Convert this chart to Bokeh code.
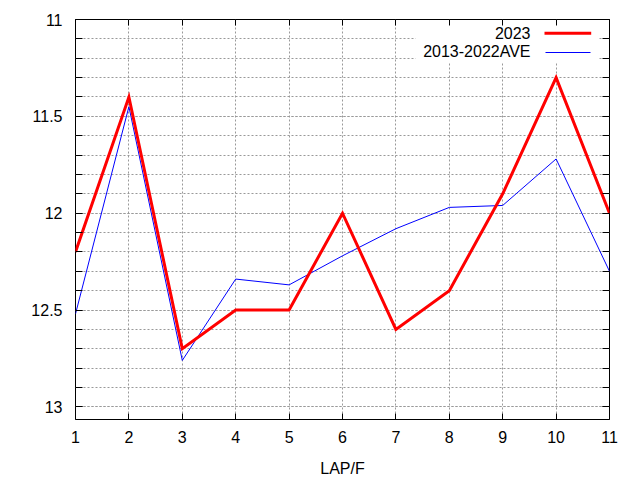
from bokeh.plotting import figure
from bokeh.models import (Range1d, LinearAxis, SingleIntervalTicker, BoxAnnotation, Label)
from bokeh.embed import file_html
from bokeh.resources import INLINE

laps = [1, 2, 3, 4, 5, 6, 7, 8, 9, 10, 11]
y2023 = [12.2, 11.4, 12.7, 12.5, 12.5, 12.0, 12.6, 12.4, 11.9, 11.3, 12.0]
avg_2013_2022 = [12.52, 11.45, 12.76, 12.34, 12.37, 12.22, 12.08, 11.97, 11.96, 11.72, 12.30]
series_names = ["2023", "2013-2022AVE"]
x_label = "LAP/F"

FONT = "Liberation Sans"
FS = "16px"

p = figure(frame_width=534, frame_height=400, output_backend="svg", toolbar_location=None,
           x_range=Range1d(1, 11), y_range=Range1d(13.065, 11),
           x_axis_location=None, y_axis_location=None,
           min_border_left=75, min_border_right=24, min_border_top=19, min_border_bottom=52)
p.background_fill_color = "white"
p.border_fill_color = "white"
p.outline_line_color = "black"
p.outline_line_width = 1

xt = SingleIntervalTicker(interval=1, num_minor_ticks=0)
yt = SingleIntervalTicker(interval=0.5, num_minor_ticks=5)

def style_axis(ax, tick_in, show_labels):
    ax.axis_line_color = None
    ax.major_tick_in = tick_in
    ax.major_tick_out = 0
    ax.minor_tick_in = tick_in
    ax.minor_tick_out = 0
    ax.major_tick_line_color = "black"
    ax.minor_tick_line_color = "black"
    ax.major_label_text_font = FONT
    if show_labels:
        ax.major_label_text_color = "black"
        ax.major_label_text_font_size = FS
    else:
        ax.major_label_text_color = None
        ax.major_label_text_font_size = "0px"
        ax.major_label_standoff = 0

xb = LinearAxis(ticker=xt)
style_axis(xb, 6, True)
xb.major_label_standoff = 11
xb.axis_label = x_label
xb.axis_label_text_font = FONT
xb.axis_label_text_font_size = FS
xb.axis_label_text_font_style = "normal"
xb.axis_label_text_color = "black"
xb.axis_label_standoff = 14
p.add_layout(xb, "below")

xa = LinearAxis(ticker=xt)
style_axis(xa, 6, False)
p.add_layout(xa, "above")

yl = LinearAxis(ticker=yt)
style_axis(yl, 7, True)
yl.major_label_standoff = 13
p.add_layout(yl, "left")

yr = LinearAxis(ticker=yt)
style_axis(yr, 7, False)
p.add_layout(yr, "right")

p.xgrid.ticker = xt
p.ygrid.ticker = yt
for g in (p.xgrid, p.ygrid):
    g.grid_line_color = "#999999"
    g.grid_line_dash = "2 2"
    g.grid_line_width = 1
p.ygrid.minor_grid_line_color = "#999999"
p.ygrid.minor_grid_line_dash = "2 2"

# legend background
p.add_layout(BoxAnnotation(left=340, right=523, bottom=357.6, top=399.5,
                           left_units="screen", right_units="screen",
                           bottom_units="screen", top_units="screen",
                           fill_color="white", fill_alpha=1, line_color=None,
                           level="underlay"))

p.line(laps, avg_2013_2022, line_color="#0000ff", line_width=1, line_join="miter")
p.line(laps, y2023, line_color="#ff0000", line_width=3, line_join="miter")

# legend entries (label left, sample right)
p.add_layout(Label(x=455, y=387, x_units="screen", y_units="screen", text=series_names[0],
                   text_align="right", text_baseline="middle", text_font=FONT,
                   text_font_size=FS, text_color="black"))
p.add_layout(Label(x=455, y=368.3, x_units="screen", y_units="screen", text=series_names[1],
                   text_align="right", text_baseline="middle", text_font=FONT,
                   text_font_size=FS, text_color="black"))
p.add_layout(BoxAnnotation(left=469, right=515.7, bottom=384.8, top=387.8,
                           left_units="screen", right_units="screen",
                           bottom_units="screen", top_units="screen",
                           fill_color="#ff0000", fill_alpha=1, line_color=None))
p.add_layout(BoxAnnotation(left=470, right=515, bottom=366.5, top=367.5,
                           left_units="screen", right_units="screen",
                           bottom_units="screen", top_units="screen",
                           fill_color="#0000ff", fill_alpha=1, line_color=None))

open("out.html", "w").write(file_html(p, INLINE))
